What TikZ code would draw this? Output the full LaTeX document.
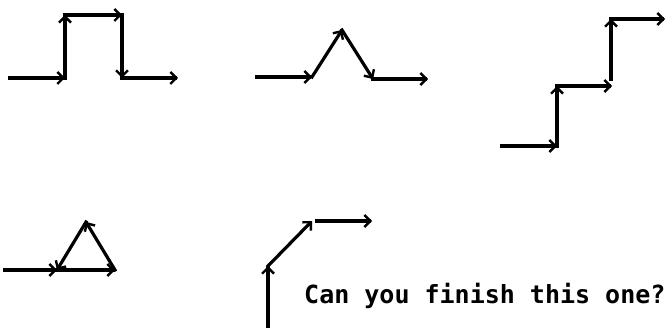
\documentclass[tikz,border=0pt]{standalone}
\usepackage{fontspec}
\newfontfamily\termfont{DejaVu Sans Mono}
\usetikzlibrary{arrows.meta}
\tikzset{
  turtle/.style={line width=3.2pt, line cap=rect,
    -{Straight Barb[length=6pt,width=12pt,line width=2.4pt]}},
  caption/.style={font=\termfont\bfseries\fontsize{25}{25}\selectfont, inner sep=0pt, anchor=base west}
}
\begin{document}
\begin{tikzpicture}[x=1pt,y=-1pt]
\useasboundingbox (0,0) rectangle (671,328);
% square pulse
\coordinate (a0) at (10,78);  \coordinate (a1) at (65,78);
\coordinate (a2) at (65,15);  \coordinate (a3) at (122,15);
\coordinate (a4) at (122,78); \coordinate (a5) at (178,78);
\draw[turtle] (a0) -- (a1);
\draw[turtle] (a1) -- (a2);
\draw[turtle] (a2) -- (a3);
\draw[turtle] (a3) -- (a4);
\draw[turtle] (a4) -- (a5);
% triangular bump
\coordinate (b0) at (257,77);  \coordinate (b1) at (312,77);
\coordinate (b2) at (342,30);  \coordinate (b3) at (373,79);
\coordinate (b4) at (428,79);
\draw[turtle] (b0) -- (b1);
\draw[turtle] (b1) -- (b2);
\draw[turtle] (b2) -- (b3);
\draw[turtle] (b3) -- (b4);
% staircase
\coordinate (c0) at (502,146); \coordinate (c1) at (557,146);
\coordinate (c2) at (557,86);  \coordinate (c3) at (612,86);
\coordinate (c4) at (611,79);  \coordinate (c5) at (611,19);
\coordinate (c6) at (665,19);
\draw[turtle] (c0) -- (c1);
\draw[turtle] (c1) -- (c2);
\draw[turtle] (c2) -- (c3);
\draw[turtle] (c4) -- (c5);
\draw[turtle] (c5) -- (c6);
% closed triangle
\coordinate (d0) at (5,270);  \coordinate (d1) at (57,270);
\coordinate (d2) at (115,270); \coordinate (d3) at (86,222);
\draw[turtle] (d0) -- (d1);
\draw[turtle] (d1) -- (d2);
\draw[turtle] (d2) -- (d3);
\draw[turtle] (d3) -- (d1);
% unfinished path
\coordinate (e0) at (268,326); \coordinate (e1) at (268,266);
\coordinate (e2) at (312,221); \coordinate (e3) at (317,221);
\coordinate (e4) at (372,221);
\draw[turtle] (e0) -- (e1);
\draw[turtle] (e1) -- (e2);
\draw[turtle] (e3) -- (e4);
\node[caption] (q) at (304,303) {Can you finish this one?};
\end{tikzpicture}
\end{document}
